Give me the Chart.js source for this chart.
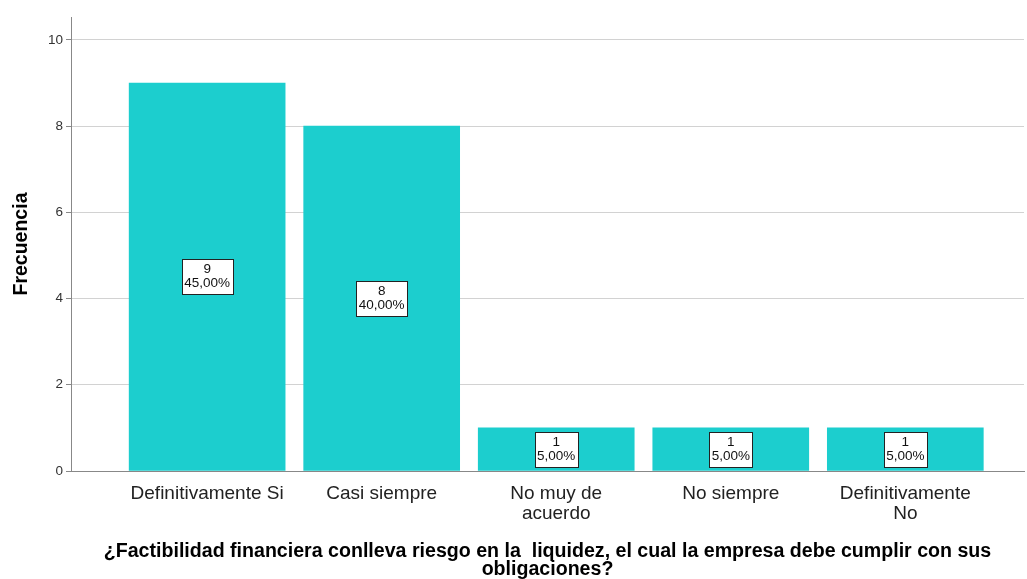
<!DOCTYPE html>
<html>
<head>
<meta charset="utf-8">
<script src="https://cdn.jsdelivr.net/npm/chart.js@4.4.1/dist/chart.umd.min.js"></script>
<style>
  html, body { margin: 0; padding: 0; background: #fff; }
  #wrap { width: 1027px; height: 579px; position: relative; }
</style>
</head>
<body>
<div id="wrap"><canvas id="frecChart"></canvas></div>
<script>
const categories = [
  ["Definitivamente Si"],
  ["Casi siempre"],
  ["No muy de", "acuerdo"],
  ["No siempre"],
  ["Definitivamente", "No"],
];
const frecuencias = [9, 8, 1, 1, 1];
const yTicks = [0, 2, 4, 6, 8, 10];

const total = frecuencias.reduce((a, b) => a + b, 0);
const FONT = "'Liberation Sans', Arial, sans-serif";

// white label boxes with count and percent in the middle of each bar
const boxLabels = {
  id: "boxLabels",
  afterDatasetsDraw(chart) {
    const ctx = chart.ctx;
    const meta = chart.getDatasetMeta(0);
    ctx.save();
    ctx.font = "13.5px " + FONT;
    ctx.textAlign = "center";
    ctx.textBaseline = "middle";
    meta.data.forEach((bar, i) => {
      const v = frecuencias[i];
      const pct = ((v / total) * 100).toFixed(2).replace(".", ",") + "%";
      const cx = bar.x;
      const cy = (bar.y + bar.base) / 2;
      const tw = Math.max(ctx.measureText(pct).width, ctx.measureText(String(v)).width);
      const w = Math.round(tw + 5), h = 35;
      const bx = Math.round(cx - w / 2) + 0.5;
      const by = Math.round(cy - h / 2) + 0.5;
      ctx.fillStyle = "#fff";
      ctx.fillRect(bx, by, w, h);
      ctx.strokeStyle = "#222";
      ctx.lineWidth = 1;
      ctx.strokeRect(bx, by, w, h);
      ctx.fillStyle = "#111";
      ctx.fillText(String(v), cx, cy - 7);
      ctx.fillText(pct, cx, cy + 7);
    });
    ctx.restore();
  },
};

new Chart(document.getElementById("frecChart"), {
  type: "bar",
  data: {
    datasets: [
      {
        label: "Frecuencia",
        data: frecuencias.map((v, i) => ({ x: i, y: v })),
        backgroundColor: "rgb(28, 206, 206)",
        borderWidth: 0,
        barThickness: 156,
      },
    ],
  },
  options: {
    responsive: true,
    maintainAspectRatio: false,
    animation: false,
    layout: { padding: { top: 17, right: 3, left: 0, bottom: 0 } },
    plugins: {
      legend: { display: false },
      tooltip: { enabled: false },
    },
    scales: {
      x: {
        type: "linear",
        offset: false,
        min: -0.78,
        max: 4.68,
        afterBuildTicks(scale) {
          scale.ticks = categories.map((c, i) => ({ value: i }));
        },
        afterFit(scale) {
          scale.height = 108;
        },
        grid: { display: false },
        border: { display: true, color: "#888", width: 1 },
        ticks: {
          autoSkip: false,
          maxRotation: 0,
          padding: 5,
          color: "#222",
          font: { family: FONT, size: 19, lineHeight: 1.05 },
          callback: (value) => categories[value],
        },
        title: {
          display: true,
          text: [
            "¿Factibilidad financiera conlleva riesgo en la  liquidez, el cual la empresa debe cumplir con sus",
            "obligaciones?",
          ],
          color: "#000",
          font: { family: FONT, size: 19.6, weight: "bold", lineHeight: 0.92 },
          padding: { top: 0, bottom: 0 },
        },
      },
      y: {
        min: 0,
        max: 10.53,
        afterBuildTicks(scale) {
          scale.ticks = yTicks.map((v) => ({ value: v }));
        },
        afterFit(scale) {
          scale.width = 71;
        },
        grid: { color: "#d2d2d2", tickColor: "#888", tickLength: 5 },
        border: { display: true, color: "#888", width: 1 },
        ticks: {
          padding: 3,
          color: "#333",
          font: { family: FONT, size: 13.5 },
        },
        title: {
          display: true,
          text: "Frecuencia",
          color: "#000",
          font: { family: FONT, size: 19.5, weight: "bold", lineHeight: 1.2 },
          padding: { top: 10, bottom: 0 },
        },
      },
    },
  },
  plugins: [boxLabels],
});
</script>
</body>
</html>
